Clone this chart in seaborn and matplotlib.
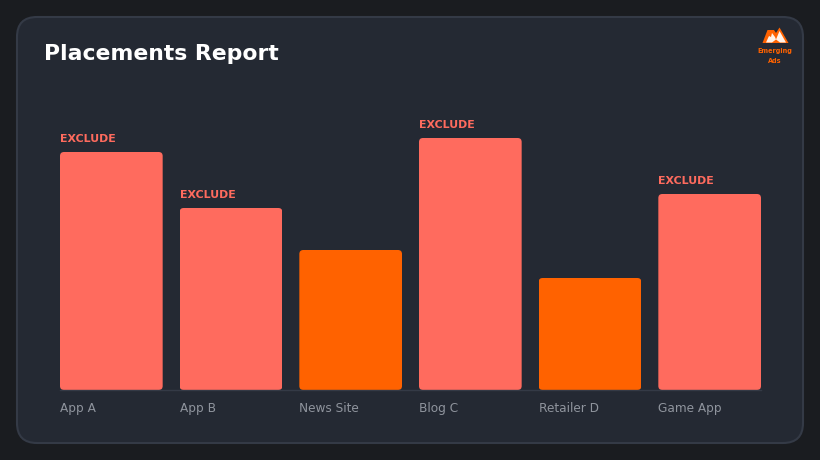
import matplotlib
matplotlib.use('Agg')
import matplotlib.pyplot as plt
from matplotlib.patches import FancyBboxPatch, Polygon
import pandas as pd
import seaborn as sns

placements = ['App A', 'App B', 'News Site', 'Blog C', 'Retailer D', 'Game App']
values = [85, 65, 50, 90, 40, 70]
excluded = [True, True, False, True, False, True]

BG = '#1a1c20'
CARD = '#242933'
EDGE = '#343a46'
CORAL = '#ff6b5e'
ORANGE = '#ff6200'
GREY = '#8f949d'
BAR_W = 0.858

sns.set_theme(style='dark')
plt.rcParams['font.family'] = ['DejaVu Sans']

df = pd.DataFrame({'placement': placements, 'value': values, 'excluded': excluded})

# the extra half pixel stops savefig rounding down to 819x459
fig = plt.figure(figsize=(8.205, 4.605), dpi=100, facecolor=BG)
W, H = fig.get_size_inches() * 100

# card and logo live on a pixel-sized background axes
bg = fig.add_axes([0, 0, 1, 1], zorder=0)
bg.set_xlim(0, W)
bg.set_ylim(460, 460 - H)
bg.axis('off')
bg.add_patch(FancyBboxPatch((17, 17), 786, 426, boxstyle='round,pad=0,rounding_size=20',
                            fc=CARD, ec=EDGE, lw=1.5))
bg.text(44, 53.5, 'Placements Report', color='white', fontsize=15.75, fontweight='bold', va='center')

bg.add_patch(Polygon([(762.5, 43), (767.5, 30), (774, 30), (776, 33), (779.5, 27.5), (788.5, 43)],
                     fc=ORANGE, ec='none'))
bg.add_patch(Polygon([(766, 42.5), (769, 36), (771, 37), (772, 33), (775, 37), (776, 39.5), (779.5, 31),
                      (786, 42.5), (780, 42.5), (776, 39.5), (772, 42.5)], fc='#fff2e8', ec='none'))
bg.text(775, 50, 'Emerging', color=ORANGE, fontsize=4.7, fontweight='bold', ha='center', va='center')
bg.text(775, 60, 'Ads', color=ORANGE, fontsize=4.7, fontweight='bold', ha='center', va='center')

ax = fig.add_axes([60 / W, 70 / H, 701 / W, 252 / H], zorder=1)
ax.patch.set_alpha(0)
sns.barplot(data=df, x='placement', y='value', hue='excluded', order=placements,
            palette={True: CORAL, False: ORANGE}, width=BAR_W, dodge=False,
            legend=False, saturation=1, linewidth=0, ax=ax)

ax.set_xlim(-BAR_W / 2, len(placements) - 1 + BAR_W / 2)
ax.set_ylim(0, 90)
ax.set_xlabel('')
ax.set_ylabel('')
ax.set_yticks([])
ax.grid(False)
ax.set_xticks([i - BAR_W / 2 for i in range(len(placements))])
ax.set_xticklabels(placements, ha='left', color=GREY, fontsize=8.7)
ax.tick_params(axis='x', length=0, pad=8)
for name, spine in ax.spines.items():
    spine.set_visible(name == 'bottom')
ax.spines['bottom'].set_color(EDGE)
ax.spines['bottom'].set_linewidth(1)

for i, (v, flag) in enumerate(zip(values, excluded)):
    if flag:
        ax.annotate('EXCLUDE', (i - BAR_W / 2, v), xytext=(0, 5.8), textcoords='offset points',
                    color=CORAL, fontsize=7.9, fontweight='bold', ha='left', va='bottom')

# clip each bar to a small rounded rectangle
fig.canvas.draw()
for bar in ax.patches:
    ext = bar.get_window_extent()
    if ext.width == 0 or ext.height == 0:
        continue
    clip = FancyBboxPatch((ext.x0, ext.y0), ext.width, ext.height,
                          boxstyle='round,pad=0,rounding_size=4', transform=None)
    bar.set_clip_path(clip)

fig.savefig('out.png', dpi=100, facecolor=BG)
